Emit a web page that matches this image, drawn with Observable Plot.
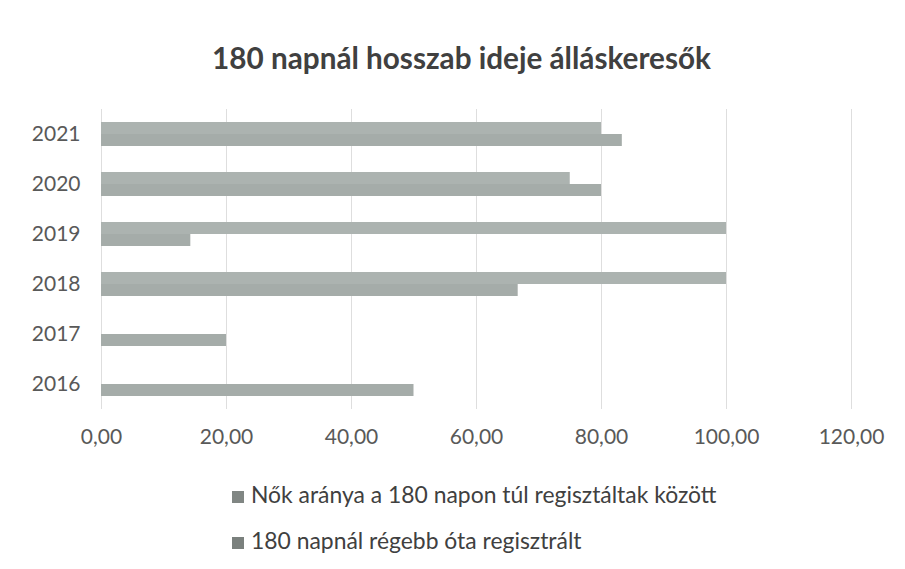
<!DOCTYPE html>
<html>
<head>
<meta charset="utf-8">
<script src="https://cdn.jsdelivr.net/npm/d3@7"></script>
<script src="https://cdn.jsdelivr.net/npm/@observablehq/plot@0.6"></script>
<style>
  html, body { margin: 0; padding: 0; background: #ffffff; }
  #chart { position: relative; width: 905px; height: 569px; background: #ffffff; font-family: Lato, "Open Sans", sans-serif; }
  #title { position: absolute; left: 9px; top: 40px; width: 905px; height: 36px; line-height: 36px; text-align: center; font-weight: 700; font-size: 29.7px; color: #404040; }
  #plot { position: absolute; left: 0; top: 95px; }
  .leg { position: absolute; left: 232px; height: 26px; line-height: 26px; font-size: 22.9px; color: #404040; white-space: nowrap; }
  .sw { display: inline-block; width: 12px; height: 12px; margin-right: 7px; vertical-align: 0px; }
</style>
</head>
<body>
<div id="chart">
  <div id="title">180 napnál hosszab ideje álláskeresők</div>
  <div id="plot"></div>
  <div id="legend"></div>
</div>
<script>
const years = ["2021", "2020", "2019", "2018", "2017", "2016"];
const seriesNames = ["Nők aránya a 180 napon túl regisztáltak között", "180 napnál régebb óta regisztrált"];
const nokArany = [83.33, 80, 14.29, 66.67, 20, 50];
const regebbOta = [80, 75, 100, 100, 0, 0];
const xTicks = [0, 20, 40, 60, 80, 100, 120];
const seriesColors = ["#a5aca9", "#acb3b0"];
const legendColors = ["#808683", "#7a807d"];

const data = [];
years.forEach((y, i) => {
  data.push({year: y, series: seriesNames[0], value: nokArany[i]});
  data.push({year: y, series: seriesNames[1], value: regebbOta[i]});
});

const fmt = d => d.toFixed(2).replace(".", ",");

const chart = Plot.plot({
  width: 905,
  height: 370,
  marginLeft: 101,
  marginRight: 54,
  marginTop: 12,
  marginBottom: 55,
  style: {fontFamily: "Lato, 'Open Sans', sans-serif", fontSize: "21px", color: "#595959", background: "transparent"},
  x: {domain: [0, 120], ticks: xTicks, tickFormat: fmt, tickSize: 0, tickPadding: 20, label: null},
  fy: {domain: years, padding: 0, label: null, axis: "left", tickSize: 0, tickPadding: 21},
  y: {domain: [seriesNames[1], seriesNames[0]], axis: null, paddingInner: 0, paddingOuter: 0.946},
  color: {domain: seriesNames, range: seriesColors},
  marks: [
    Plot.ruleX(xTicks, {stroke: "#dedede", strokeWidth: 1}),
    Plot.barX(data, {x: "value", y: "series", fy: "year", fill: "series"})
  ]
});
document.getElementById("plot").appendChild(chart);

const legend = document.getElementById("legend");
const legTops = [481, 527];
seriesNames.forEach((name, i) => {
  const d = document.createElement("div");
  d.className = "leg";
  d.style.top = legTops[i] + "px";
  const sw = document.createElement("span");
  sw.className = "sw";
  sw.style.background = legendColors[i];
  d.appendChild(sw);
  d.appendChild(document.createTextNode(name));
  legend.appendChild(d);
});
</script>
</body>
</html>
